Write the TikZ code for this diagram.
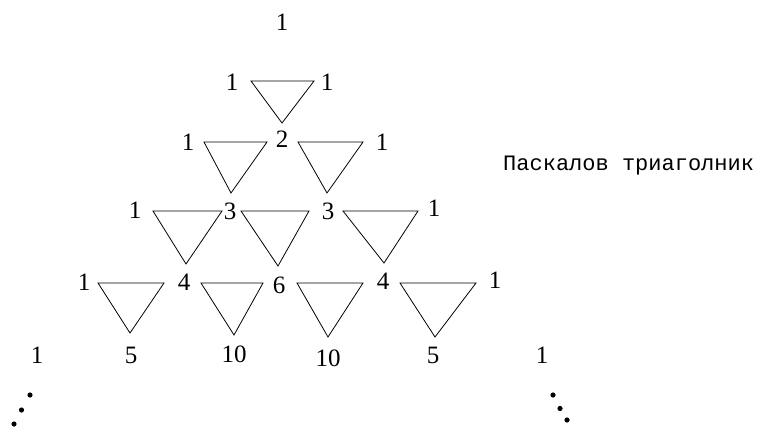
\documentclass[tikz,border=0pt]{standalone}
\usepackage{fontspec}
\setmainfont{Liberation Serif}
\newfontfamily\monof{Liberation Mono}
\begin{document}
\begin{tikzpicture}[x=1pt,y=-1pt,
  num/.style={inner sep=0pt,font=\fontsize{25}{28}\selectfont},
  tri/.style={draw,line width=0.8pt,line join=miter},
  dotm/.style={fill=black}]
\useasboundingbox (0,0) rectangle (759,428);
% row 0
\node[num] (r0a) at (282,22) {1};
% row 1
\node[num] (r1a) at (232,82) {1};
\node[num] (r1b) at (327,82) {1};
\draw[tri] (251,81) -- (314,81) -- (282,123) -- cycle;
% row 2
\node[num] (r2a) at (188,142) {1};
\node[num] (r2b) at (282,139) {2};
\node[num] (r2c) at (382,142) {1};
\draw[tri] (204,142) -- (267,142) -- (231,193) -- cycle;
\draw[tri] (298,142) -- (363,142) -- (327,193) -- cycle;
% row 3
\node[num] (r3a) at (135,210) {1};
\node[num] (r3b) at (230,211) {3};
\node[num] (r3c) at (328,211) {3};
\node[num] (r3d) at (434,208) {1};
\draw[tri] (153,211) -- (222,211) -- (186,264) -- cycle;
\draw[tri] (241,211) -- (309,211) -- (278,266) -- cycle;
\draw[tri] (343,211) -- (418,211) -- (384,263) -- cycle;
% row 4
\node[num] (r4a) at (84,282) {1};
\node[num] (r4b) at (184,282) {4};
\node[num] (r4c) at (279,285) {6};
\node[num] (r4d) at (383,281) {4};
\node[num] (r4e) at (495,280) {1};
\draw[tri] (98,283) -- (164,283) -- (130,333) -- cycle;
\draw[tri] (201,283) -- (263,283) -- (234,335) -- cycle;
\draw[tri] (297,283) -- (363,283) -- (328,337) -- cycle;
\draw[tri] (400,283) -- (476,283) -- (435,337) -- cycle;
% row 5
\node[num] (r5a) at (37,355) {1};
\node[num] (r5b) at (131,355) {5};
\node[num] (r5c) at (234,354) {10};
\node[num] (r5d) at (328,358) {10};
\node[num] (r5e) at (433,355) {5};
\node[num] (r5f) at (542,355) {1};
% dots
\fill[dotm] (30,395) circle (2.6);
\fill[dotm] (21.5,410) circle (2.6);
\fill[dotm] (14,424) circle (2.6);
\fill[dotm] (553,395) circle (2.6);
\fill[dotm] (560,408.5) circle (2.6);
\fill[dotm] (567,420) circle (2.6);
% title
\node[inner sep=0pt,anchor=base west,font=\monof\fontsize{22}{26}\selectfont] (title) at (503,170) {Паскалов триаголник};
\end{tikzpicture}
\end{document}
